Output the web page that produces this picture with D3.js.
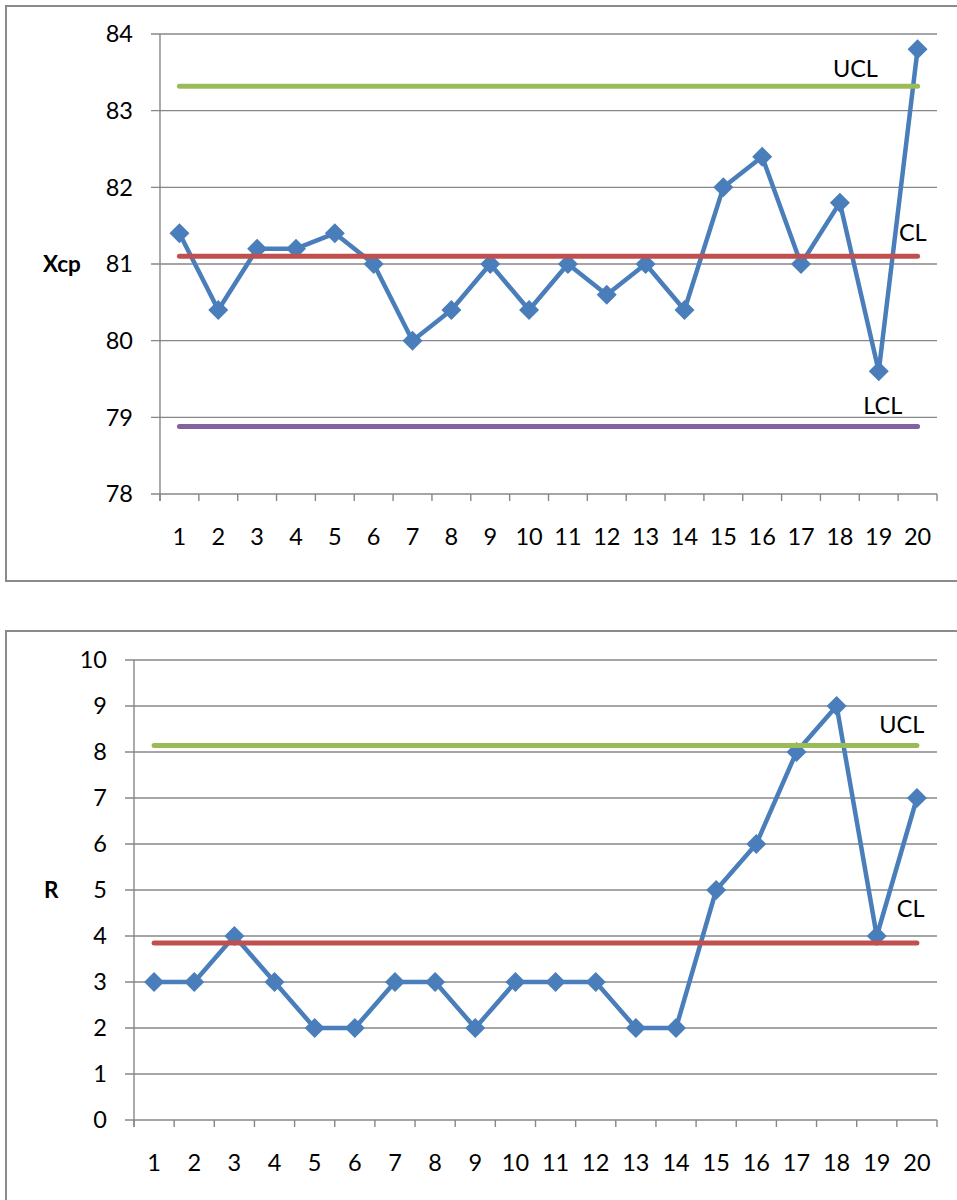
<!DOCTYPE html>
<html><head><meta charset="utf-8">
<script src="https://cdn.jsdelivr.net/npm/d3@7"></script>
<style>body{margin:0;background:#fff} svg{display:block}</style>
</head><body>
<svg id="c" width="957" height="1200"></svg>
<script>
// ---- data ----
const samples = [1,2,3,4,5,6,7,8,9,10,11,12,13,14,15,16,17,18,19,20];
const xbarValues = [81.4,80.4,81.2,81.2,81.4,81.0,80.0,80.4,81.0,80.4,81.0,80.6,81.0,80.4,82.0,82.4,81.0,81.8,79.6,83.8];
const xbarLimitNames = ["UCL","CL","LCL"];
const xbarLimitValues = [83.32,81.1,78.88];
const xbarTicks = [78,79,80,81,82,83,84];
const rValues = [3,3,4,3,2,2,3,3,2,3,3,3,2,2,5,6,8,9,4,7];
const rLimitNames = ["UCL","CL"];
const rLimitValues = [8.14,3.85];
const rTicks = [0,1,2,3,4,5,6,7,8,9,10];

const limitColors = {UCL:"#9BBB59", CL:"#C0504D", LCL:"#8064A2"};
const FONT = "Lato, 'Open Sans', sans-serif";
const FS = 23.5;
const svg = d3.select("#c");

function chart(o){
  const g = svg.append("g");
  g.append("rect").attr("x",o.frame[0]).attr("y",o.frame[1]).attr("width",o.frame[2]).attr("height",o.frame[3])
    .attr("fill","none").attr("stroke","#8a8a8a").attr("stroke-width",2);
  const x = d3.scaleBand().domain(o.cats).range([o.left,o.right]).padding(0);
  const y = d3.scaleLinear().domain(d3.extent(o.ticks)).range([o.bottom,o.top]);
  const cx = d => x(d) + x.bandwidth()/2;
  g.append("g").selectAll("line").data(o.ticks).join("line")
    .attr("x1",o.left-9).attr("x2",o.right).attr("y1",d=>y(d)).attr("y2",d=>y(d))
    .attr("stroke","#878787").attr("stroke-width",1.4);
  g.append("line").attr("x1",o.left).attr("x2",o.left).attr("y1",o.top).attr("y2",o.bottom+7)
    .attr("stroke","#878787").attr("stroke-width",1.4);
  const bounds = o.cats.map(c=>x(c)).concat([o.right]);
  g.append("g").selectAll("line").data(bounds).join("line")
    .attr("x1",d=>d).attr("x2",d=>d).attr("y1",o.bottom).attr("y2",o.bottom+7)
    .attr("stroke","#878787").attr("stroke-width",1.4);
  g.append("g").selectAll("text").data(o.ticks).join("text")
    .attr("x",o.left-27).attr("y",d=>y(d)).attr("dy","0.36em").attr("text-anchor","end")
    .attr("font-family",FONT).attr("font-size",FS).attr("fill","#000").text(d=>d);
  g.append("g").selectAll("text").data(o.cats).join("text")
    .attr("x",d=>cx(d)).attr("y",o.bottom+51).attr("text-anchor","middle")
    .attr("font-family",FONT).attr("font-size",FS).attr("fill","#000").text(d=>d);
  g.append("text").attr("x",o.titleX).attr("y",y(o.titleAt)).attr("dy","0.36em")
    .attr("font-family",FONT).attr("font-weight","bold").attr("font-size",22.5).text(o.title);
  const pts = o.cats.map((c,i)=>[cx(c), y(o.values[i])]);
  g.append("path").attr("d",d3.line()(pts)).attr("fill","none")
    .attr("stroke","#4A7EBB").attr("stroke-width",4.5).attr("stroke-linejoin","round");
  g.append("g").selectAll("path").data(pts).join("path")
    .attr("d","M0,-10L10,0L0,10L-10,0Z").attr("transform",d=>`translate(${d[0]},${d[1]})`)
    .attr("fill","#4A7EBB");
  const first = cx(o.cats[0]), last = cx(o.cats[o.cats.length-1]);
  o.limitNames.forEach((n,i)=>{
    const v = o.limitValues[i];
    g.append("line").attr("x1",first).attr("x2",last).attr("y1",y(v)).attr("y2",y(v))
      .attr("stroke",limitColors[n]).attr("stroke-width",5).attr("stroke-linecap","round");
    const lp = o.labelPos[n];
    g.append("text").attr("x",o.left + lp[0]*x.step()).attr("y",y(v)+lp[1])
      .attr("font-family",FONT).attr("font-size",FS).attr("fill","#000").text(n);
  });
}

chart({frame:[6,6,980,575], left:160, right:937, top:34, bottom:494,
  cats:samples, values:xbarValues, ticks:xbarTicks,
  limitNames:xbarLimitNames, limitValues:xbarLimitValues,
  title:"Xcp", titleX:43, titleAt:81,
  labelPos:{UCL:[17.32,-9], CL:[19.02,-15], LCL:[18.1,-13]}});

chart({frame:[6,631,980,600], left:134, right:937, top:660, bottom:1120,
  cats:samples, values:rValues, ticks:rTicks,
  limitNames:rLimitNames, limitValues:rLimitValues,
  title:"R", titleX:44, titleAt:5,
  labelPos:{UCL:[18.56,-13], CL:[19.0,-26]}});
</script>
</body></html>
